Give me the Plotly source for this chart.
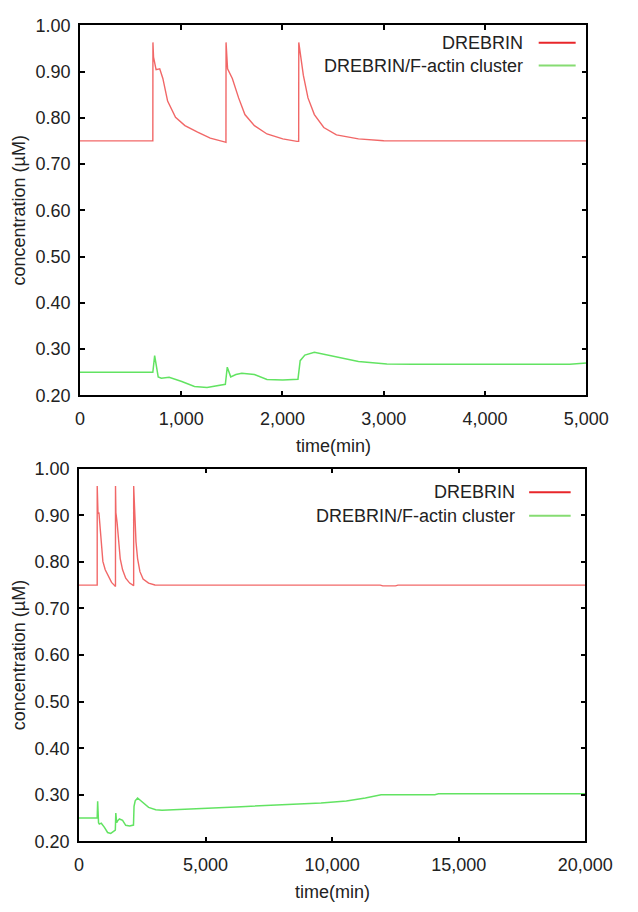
import plotly.graph_objects as go

# ---- simulated concentrations (µM) vs time (min) ----
# DREBRIN, first 5,000 min
drebrin_time = [0, 720, 721, 727, 752, 788, 819, 866, 944, 1037, 1162, 1287, 1427,
                1442, 1443, 1449, 1458, 1505, 1567, 1629, 1723, 1847, 2003, 2143,
                2160, 2161, 2184, 2206, 2252, 2315, 2408, 2533, 2750, 3000, 3300, 5000]
drebrin_conc = [0.75, 0.75, 0.963, 0.931, 0.904, 0.906, 0.885, 0.836, 0.801, 0.783, 0.769, 0.756, 0.748,
                0.747, 0.963, 0.927, 0.906, 0.885, 0.843, 0.807, 0.783, 0.765, 0.7545, 0.749,
                0.749, 0.963, 0.927, 0.892, 0.843, 0.807, 0.779, 0.763, 0.7545, 0.7505, 0.75, 0.75]

# DREBRIN/F-actin cluster, first 5,000 min
cluster_time = [0, 720, 738, 755, 773, 804, 881, 1006, 1131, 1255, 1380, 1436, 1455, 1489,
                1540, 1598, 1723, 1847, 2003, 2153, 2175, 2221, 2315, 2439, 2595, 2750,
                3031, 3280, 4838, 5000]
cluster_conc = [0.25, 0.25, 0.286, 0.258, 0.240, 0.237, 0.239, 0.230, 0.219, 0.217, 0.221, 0.224, 0.261, 0.240,
                0.245, 0.248, 0.245, 0.2345, 0.233, 0.235, 0.275, 0.287, 0.293, 0.287, 0.279, 0.273,
                0.268, 0.267, 0.267, 0.270]

# long-run continuation up to 20,000 min
drebrin_tail_time = [11900, 12000, 12500, 12600, 20000]
drebrin_tail_conc = [0.75, 0.7485, 0.7485, 0.75, 0.75]
cluster_tail_time = [6200, 6817, 8689, 9562, 10561, 11310, 11934, 14056, 14200, 20000]
cluster_tail_conc = [0.274, 0.2755, 0.279, 0.2825, 0.2866, 0.293, 0.300, 0.300, 0.302, 0.302]

x_ticks_short = [0, 1000, 2000, 3000, 4000, 5000]
x_ticks_long = [0, 5000, 10000, 15000, 20000]
y_ticks = [0.2, 0.3, 0.4, 0.5, 0.6, 0.7, 0.8, 0.9, 1.0]

RED_LINE = "rgba(236,45,45,0.72)"
GREEN_LINE = "rgba(70,222,70,0.85)"
RED_KEY = "#e8262a"
GREEN_KEY = "#86dc72"
FONT = "Liberation Sans, Arial, sans-serif"

W, H = 638, 912

fig = go.Figure()

panels = [
    dict(xa="x", ya="y", xdom=[79, 613], ydom=[15.6, 394],
         t_d=drebrin_time, c_d=drebrin_conc,
         t_c=cluster_time, c_c=cluster_conc,
         xmax=5000, ticks=x_ticks_short,
         key_text_x=0.878, key_line=(0.906, 0.979), key_y=(0.953, 0.891)),
    dict(xa="x2", ya="y2", xdom=[78, 612], ydom=[469, 850],
         t_d=drebrin_time[:-1] + drebrin_tail_time, c_d=drebrin_conc[:-1] + drebrin_tail_conc,
         t_c=cluster_time[:-2] + cluster_tail_time, c_c=cluster_conc[:-2] + cluster_tail_conc,
         xmax=20000, ticks=x_ticks_long,
         key_text_x=0.866, key_line=(0.889, 0.971), key_y=(0.937, 0.874)),
]

layout = dict(
    width=W, height=H,
    margin=dict(l=0, r=0, t=0, b=0),
    paper_bgcolor="white", plot_bgcolor="white",
    showlegend=False,
    font=dict(family=FONT, size=18, color="#222"),
)
shapes, annotations = [], []

for i, p in enumerate(panels):
    fig.add_trace(go.Scatter(x=p["t_d"], y=p["c_d"], mode="lines", name="DREBRIN",
                             line=dict(color=RED_LINE, width=1.4),
                             xaxis=p["xa"], yaxis=p["ya"]))
    fig.add_trace(go.Scatter(x=p["t_c"], y=p["c_c"], mode="lines", name="DREBRIN/F-actin cluster",
                             line=dict(color=GREEN_LINE, width=1.5),
                             xaxis=p["xa"], yaxis=p["ya"]))

    xd = [p["xdom"][0] / W, p["xdom"][1] / W]
    yd = [1 - p["ydom"][1] / H, 1 - p["ydom"][0] / H]
    suffix = "" if i == 0 else "2"
    layout["xaxis" + suffix] = dict(
        domain=xd, anchor="y" + suffix, range=[0, p["xmax"]],
        tickvals=p["ticks"], tickformat=",d",
        ticks="inside", ticklen=5, tickwidth=1.5, tickcolor="black",
        showline=True, linecolor="black", linewidth=1.5, mirror="ticks",
        showgrid=False, zeroline=False, ticklabelstandoff=6,
        tickfont=dict(size=18, family=FONT, color="#222"),
    )
    layout["yaxis" + suffix] = dict(
        domain=yd, anchor="x" + suffix, range=[0.2, 1.0],
        tickvals=y_ticks, tickformat=".2f",
        ticks="inside", ticklen=5, tickwidth=1.5, tickcolor="black",
        showline=True, linecolor="black", linewidth=1.5, mirror="ticks",
        showgrid=False, zeroline=False, ticklabelstandoff=4,
        tickfont=dict(size=18, family=FONT, color="#222"),
    )

    xdref, ydref = p["xa"] + " domain", p["ya"] + " domain"
    # legend: right-aligned labels with the line key on their right
    for label, colour, yk in [("DREBRIN", RED_KEY, p["key_y"][0]),
                              ("DREBRIN/F-actin cluster", GREEN_KEY, p["key_y"][1])]:
        annotations.append(dict(text=label, x=p["key_text_x"], y=yk, xref=xdref, yref=ydref,
                                xanchor="right", yanchor="middle", showarrow=False,
                                font=dict(size=18, family=FONT, color="#222")))
        shapes.append(dict(type="line", x0=p["key_line"][0], x1=p["key_line"][1], y0=yk, y1=yk,
                           xref=xdref, yref=ydref,
                           line=dict(color=colour, width=2)))

    # axis titles
    annotations.append(dict(text="time(min)", x=0.5, xref=xdref,
                            y=1 - (p["ydom"][1] + 52) / H, yref="paper",
                            xanchor="center", yanchor="middle", showarrow=False,
                            font=dict(size=18, family=FONT, color="#222")))
    annotations.append(dict(text="concentration (µM)", textangle=-90,
                            x=15 / W, xref="paper", y=0.5, yref=ydref,
                            xanchor="center", yanchor="middle", showarrow=False,
                            font=dict(size=18, family=FONT, color="#222")))

layout["shapes"] = shapes
layout["annotations"] = annotations
fig.update_layout(**layout)
fig.write_html("out.html")
